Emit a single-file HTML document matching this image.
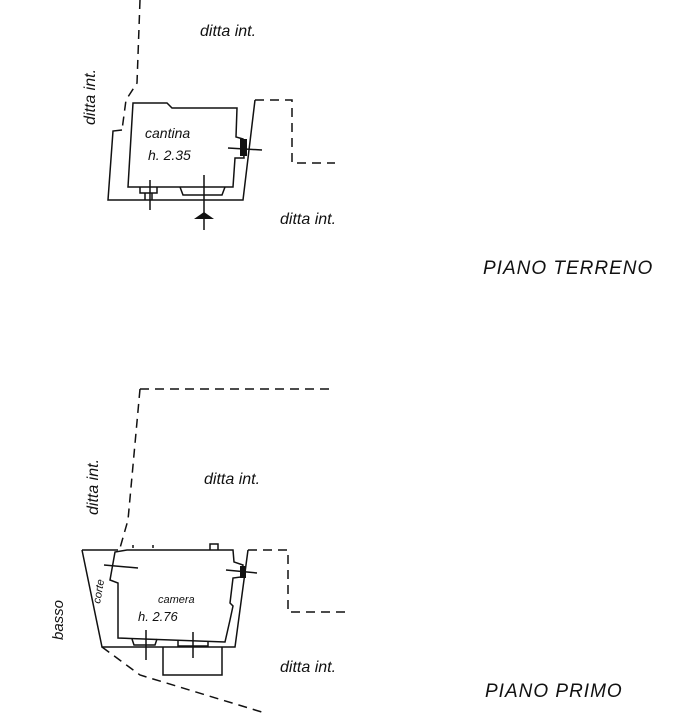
<!DOCTYPE html>
<html><head><meta charset="utf-8"><style>
html,body{margin:0;padding:0;background:#fff;}
svg{display:block;}
text{font-family:"Liberation Sans",sans-serif;font-style:italic;fill:#111;}
</style></head><body>
<svg width="673" height="715" viewBox="0 0 673 715" xmlns="http://www.w3.org/2000/svg">
<g fill="none" stroke="#111" stroke-width="1.5">
<!-- TOP PLAN -->
<path d="M140,0 L137,83 L126,100 L122,130" stroke-dasharray="9,6"/>
<path d="M122,130 L113,131 L108,200 L243,200 L255,100"/>
<path d="M255,100 L292,100 L292,163 L335,163" stroke-dasharray="9,6"/>
<path d="M133,103 L167,103 L172,108 L237,108 L236,137 L243,139 L244,158 L235,158 L233,187 L128,187 Z"/>
<path d="M140,187 L140,193 L157,193 L157,187 M145,193 L145,200 M152,193 L152,200"/>
<path d="M180,187 L183,195 L222,195 L225,187"/>
<path d="M150,180 L150,210"/>
<path d="M204,175 L204,230"/>
<path d="M228,148 L262,150"/>
</g>
<rect x="240" y="139" width="7" height="17" fill="#111"/>
<polygon points="194,219 214,219 204,212" fill="#111"/>
<text x="200" y="36" font-size="16">ditta int.</text>
<text x="0" y="0" font-size="16" transform="translate(95,125) rotate(-90)">ditta int.</text>
<text x="145" y="138" font-size="14">cantina</text>
<text x="148" y="160" font-size="14">h. 2.35</text>
<text x="280" y="224" font-size="16">ditta int.</text>
<text x="483" y="274" font-size="19" letter-spacing="1">PIANO TERRENO</text>

<!-- BOTTOM PLAN -->
<g fill="none" stroke="#111" stroke-width="1.5">
<path d="M140,389 L334,389 M140,389 L128,520 L120,548" stroke-dasharray="9,6"/>
<path d="M82,550 L118,550 M82,550 L102,647 L235,647 L248,550"/>
<path d="M248,550 L288,550 L288,612 L350,612" stroke-dasharray="9,6"/>
<path d="M127,550 L233,550 L234,562 L243,565 L241,577 L233,578 L230,603 L233,606 L230,620 L225,642 L118,638 L118,583 L110,580 L115,552 Z"/>
<path d="M210,550 L210,544 L218,544 L218,550"/>
<path d="M133,548 L133,545 M153,548 L153,545"/>
<path d="M163,647 L163,675 L222,675 L222,647"/>
<path d="M132,639 L134,645 L155,645 L157,639 M178,641 L178,646 L208,646 L208,641"/>
<path d="M102,647 L140,675 L265,713" stroke-dasharray="9,6"/>
<path d="M104,565 L138,568"/>
<path d="M226,570 L257,573"/>
<path d="M146,630 L146,660 M193,632 L193,658"/>
</g>
<rect x="240" y="566" width="6" height="12" fill="#111"/>
<text x="0" y="0" font-size="16" transform="translate(98,515) rotate(-90)">ditta int.</text>
<text x="204" y="484" font-size="16">ditta int.</text>
<text x="0" y="0" font-size="15" transform="translate(63,640) rotate(-90)">basso</text>
<text x="0" y="0" font-size="11" transform="translate(100,604) rotate(-80)">corte</text>
<text x="158" y="603" font-size="11">camera</text>
<text x="138" y="621" font-size="13">h. 2.76</text>
<text x="280" y="672" font-size="16">ditta int.</text>
<text x="485" y="697" font-size="19" letter-spacing="1">PIANO PRIMO</text>
</svg>
</body></html>
